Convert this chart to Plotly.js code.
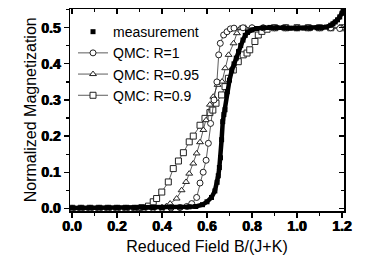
<!DOCTYPE html>
<html>
<head>
<meta charset="utf-8">
<script src="https://cdn.plot.ly/plotly-3.0.1.min.js"></script>
<style>html,body{margin:0;padding:0;background:#fff;}#chart{width:374px;height:263px;}</style>
</head>
<body>
<div id="chart"></div>
<script>
const measX = [0.00,0.04,0.08,0.12,0.16,0.20,0.24,0.28,0.32,0.36,0.40,0.44,0.48,0.52,0.55,0.58,0.60,0.62,0.635,0.645,0.65,0.655,0.66,0.665,0.67,0.675,0.68,0.69,0.70,0.71,0.72,0.73,0.74,0.75,0.76,0.77,0.78,0.80,0.82,0.85,0.88,0.91,0.94,0.97,1.00,1.03,1.06,1.09,1.11,1.13,1.15,1.16,1.17,1.18,1.19,1.20,1.205];
const measY = [0.001,0.001,0.001,0.001,0.001,0.001,0.001,0.001,0.002,0.002,0.002,0.003,0.003,0.004,0.005,0.010,0.018,0.030,0.048,0.072,0.090,0.113,0.140,0.190,0.240,0.260,0.273,0.323,0.355,0.382,0.400,0.416,0.434,0.451,0.466,0.479,0.487,0.494,0.498,0.500,0.501,0.500,0.500,0.499,0.499,0.499,0.499,0.500,0.500,0.502,0.507,0.511,0.516,0.522,0.530,0.540,0.548];

// QMC R=1 (circles)
const r1X = [0.00,0.04,0.08,0.12,0.16,0.20,0.24,0.28,0.32,0.36,0.40,0.44,0.48,0.51,0.532,0.554,0.569,0.583,0.596,0.606,0.616,0.631,0.644,0.652,0.659,0.674,0.689,0.704,0.72,0.76,0.80,0.85,0.90,0.95,1.00,1.05,1.10,1.15,1.19];
const r1Y = [0.000,0.000,0.000,0.000,0.000,0.000,0.000,0.000,0.000,0.000,0.000,0.001,0.002,0.005,0.013,0.030,0.070,0.100,0.133,0.180,0.235,0.300,0.350,0.425,0.457,0.480,0.489,0.497,0.499,0.500,0.500,0.500,0.500,0.500,0.500,0.500,0.500,0.500,0.498];

// QMC R=0.95 (triangles)
const r95X = [0.00,0.04,0.08,0.12,0.16,0.20,0.24,0.28,0.32,0.36,0.40,0.42,0.436,0.465,0.487,0.507,0.521,0.539,0.554,0.569,0.584,0.596,0.613,0.628,0.647,0.667,0.681,0.696,0.718,0.733,0.748,0.77,0.80,0.85,0.90,0.95,1.00,1.05,1.10,1.15,1.20];
const r95Y = [0.000,0.000,0.000,0.000,0.000,0.000,0.000,0.000,0.000,0.001,0.003,0.006,0.013,0.027,0.050,0.073,0.096,0.124,0.152,0.183,0.217,0.244,0.287,0.309,0.342,0.351,0.388,0.425,0.457,0.485,0.499,0.500,0.500,0.500,0.500,0.500,0.500,0.500,0.500,0.500,0.500];

// QMC R=0.9 (squares)
const r90X = [0.00,0.04,0.08,0.12,0.16,0.20,0.24,0.28,0.31,0.34,0.361,0.376,0.399,0.428,0.450,0.473,0.495,0.521,0.539,0.569,0.591,0.613,0.626,0.640,0.665,0.680,0.695,0.717,0.739,0.761,0.778,0.790,0.813,0.828,0.844,0.867,0.90,0.95,1.00,1.05,1.10,1.15,1.20];
const r90Y = [0.000,0.000,0.000,0.000,0.000,0.000,0.000,0.000,0.002,0.006,0.018,0.027,0.045,0.073,0.110,0.131,0.154,0.184,0.200,0.230,0.249,0.265,0.272,0.291,0.314,0.337,0.360,0.383,0.406,0.425,0.430,0.439,0.462,0.480,0.490,0.496,0.500,0.500,0.500,0.500,0.500,0.500,0.500];

const xTickVals = [0.0,0.2,0.4,0.6,0.8,1.0,1.2];
const yTickVals = [0.0,0.1,0.2,0.3,0.4,0.5];
const seriesNames = ['measurement','QMC: R=1','QMC: R=0.95','QMC: R=0.9'];
const xTitle = 'Reduced Field B/(J+K)';
const yTitle = 'Normalized Magnetization';

const F = 'Arial, "Liberation Sans", sans-serif';
const qmcLine = {color:'#333', width:0.8};
function qmc(x, y, name, sym, rank){
  return {x:x, y:y, name:name, type:'scatter', mode:'lines+markers', legendrank:rank,
    line:qmcLine, marker:{symbol:sym, size:6, color:'#fff', line:{color:'#222', width:1}}};
}
const data = [
  qmc(r90X, r90Y, seriesNames[3], 'square', 4),
  qmc(r95X, r95Y, seriesNames[2], 'triangle-up', 3),
  qmc(r1X, r1Y, seriesNames[1], 'circle', 2),
  {x:measX, y:measY, type:'scatter', mode:'lines', showlegend:false, line:{color:'#000', width:4.5}},
  {x:measX, y:measY, name:seriesNames[0], type:'scatter', mode:'markers', legendrank:1,
    marker:{symbol:'square', size:5, color:'#000'}},
  {x:[], y:[], xaxis:'x2', yaxis:'y2', showlegend:false, type:'scatter'}
];
const xr = [-0.009, 1.209], yr = [-0.0075, 0.552];
const common = {showgrid:false, zeroline:false, showline:true, linecolor:'#000', linewidth:1.5, tickcolor:'#000', tickwidth:1.2, ticklen:5};
const fmt = v => v.toFixed(1);
const TF = {size:14, family:'"Liberation Sans", Arial, sans-serif', weight:'bold', color:'#000',
  shadow:'0.5px 0 0 #000, -0.3px 0 0 #000'};
const layout = {
  width:374, height:263,
  margin:{l:70, r:30, t:9, b:52},
  paper_bgcolor:'#fff', plot_bgcolor:'#fff',
  font:{family:F, color:'#000'},
  showlegend:true,
  legend:{x:0.011, y:0.965, xanchor:'left', yanchor:'top', bgcolor:'rgba(0,0,0,0)', font:{size:14, family:F}, traceorder:'normal', tracegroupgap:0},
  xaxis:Object.assign({}, common, {range:xr, tickvals:xTickVals, ticktext:xTickVals.map(fmt), ticks:'outside',
    tickfont:TF, ticklabelstandoff:-3,
    minor:{dtick:0.1, tick0:0, ticks:'outside', ticklen:3, tickwidth:1.2, tickcolor:'#000'},
    title:{text:xTitle, font:{size:16, family:F}, standoff:7}}),
  yaxis:Object.assign({}, common, {range:yr, tickvals:yTickVals, ticktext:yTickVals.map(fmt), ticks:'outside',
    tickfont:TF,
    minor:{dtick:0.05, tick0:0, ticks:'outside', ticklen:3, tickwidth:1.2, tickcolor:'#000'}}),
  xaxis2:Object.assign({}, common, {range:xr, overlaying:'x', side:'top', anchor:'y2', ticks:'inside', tickvals:xTickVals, showticklabels:false,
    minor:{dtick:0.1, tick0:0, ticks:'inside', ticklen:3, tickwidth:1.2, tickcolor:'#000'}}),
  yaxis2:Object.assign({}, common, {range:yr, overlaying:'y', side:'right', anchor:'x2', ticks:'inside', tickvals:yTickVals, showticklabels:false,
    minor:{dtick:0.05, tick0:0, ticks:'inside', ticklen:3, tickwidth:1.2, tickcolor:'#000'}}),
  annotations:[{text:yTitle, xref:'paper', yref:'paper', x:-0.145, y:0.5, xanchor:'center', yanchor:'middle', textangle:-90, showarrow:false, font:{size:16, family:F}}]
};
Plotly.newPlot('chart', data, layout, {displayModeBar:false, staticPlot:true});
</script>
</body>
</html>
